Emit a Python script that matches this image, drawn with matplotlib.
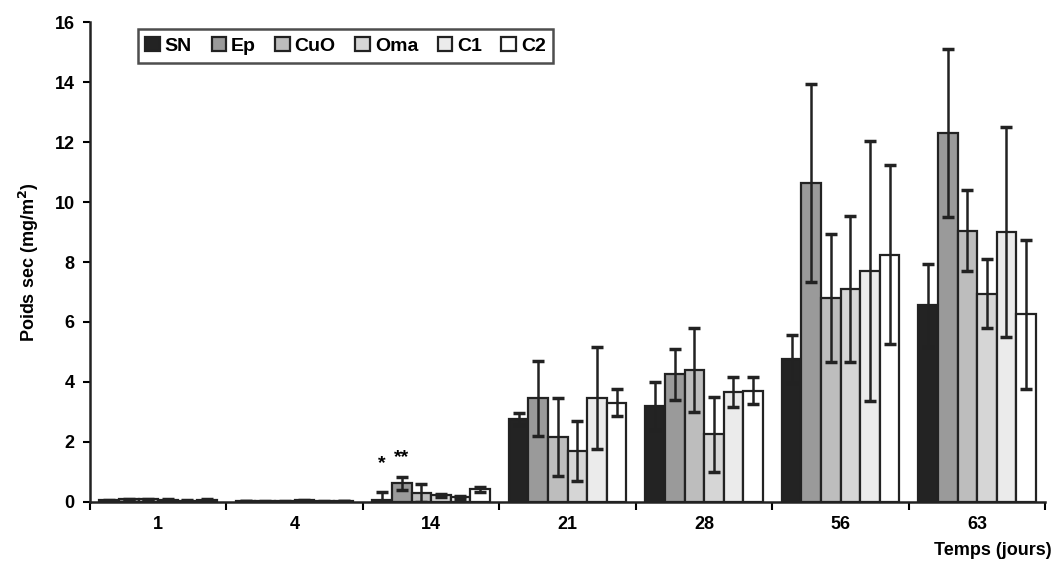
import numpy as np
import matplotlib.pyplot as plt

plt.rcParams['font.family'] = ['Liberation Sans', 'DejaVu Sans']
plt.rcParams['font.weight'] = 'bold'

jours = ['1', '4', '14', '21', '28', '56', '63']
series = ['SN', 'Ep', 'CuO', 'Oma', 'C1', 'C2']

SN = [0.05, 0.03, 0.05, 2.75, 3.2, 4.75, 6.55]
Ep = [0.08, 0.02, 0.62, 3.45, 4.25, 10.65, 12.3]
CuO = [0.08, 0.02, 0.3, 2.15, 4.4, 6.8, 9.05]
Oma = [0.06, 0.05, 0.22, 1.7, 2.25, 7.1, 6.95]
C1 = [0.04, 0.02, 0.15, 3.45, 3.65, 7.7, 9.0]
C2 = [0.06, 0.03, 0.42, 3.3, 3.7, 8.25, 6.25]

SN_err = [0.02, 0.01, 0.27, 0.2, 0.8, 0.8, 1.4]
Ep_err = [0.02, 0.01, 0.22, 1.25, 0.85, 3.3, 2.8]
CuO_err = [0.02, 0.01, 0.3, 1.3, 1.4, 2.15, 1.35]
Oma_err = [0.02, 0.01, 0.05, 1.0, 1.25, 2.45, 1.15]
C1_err = [0.02, 0.01, 0.05, 1.7, 0.5, 4.35, 3.5]
C2_err = [0.02, 0.01, 0.08, 0.45, 0.45, 3.0, 2.5]

values = [SN, Ep, CuO, Oma, C1, C2]
errors = [SN_err, Ep_err, CuO_err, Oma_err, C1_err, C2_err]
colors = ['#232323', '#9a9a9a', '#bdbdbd', '#d6d6d6', '#ebebeb', '#ffffff']

fig = plt.figure(figsize=(10.57, 5.69), dpi=100)
ax = fig.add_axes([0.085, 0.118, 0.904, 0.843])

x = np.arange(len(jours))
w = 0.86 / 6
for i, (name, v, e, c) in enumerate(zip(series, values, errors, colors)):
    pos = x - 0.43 + w * (i + 0.5)
    ax.bar(pos, v, width=w, color=c, edgecolor='#222222', linewidth=1.6,
           label=name, zorder=2)
    ax.errorbar(pos, v, yerr=e, fmt='none', ecolor='#222222', elinewidth=1.8,
                capsize=4, capthick=2.5, zorder=3)

# significance stars at day 14
ax.text(x[2] - 0.43 + w * 0.5, 1.0, '*', ha='center', va='bottom', fontsize=14)
ax.text(x[2] - 0.43 + w * 1.5, 1.2, '**', ha='center', va='bottom', fontsize=14)

ax.set_xlim(-0.5, len(jours) - 0.5)
ax.set_ylim(0, 16)
ax.set_yticks(np.arange(0, 17, 2))
ax.set_xticks(x)
ax.set_xticklabels(jours, fontsize=13, fontweight='bold')
ax.set_xticks(np.arange(-0.5, len(jours)), minor=True)
ax.tick_params(axis='x', which='major', length=0, pad=10)
ax.tick_params(axis='x', which='minor', length=6, width=1.5, direction='out')
ax.tick_params(axis='y', labelsize=13, length=5, width=1.5, direction='out', pad=6)
for lab in ax.get_yticklabels():
    lab.set_fontweight('bold')

for s in ['top', 'right']:
    ax.spines[s].set_visible(False)
for s in ['left', 'bottom']:
    ax.spines[s].set_linewidth(1.8)
    ax.spines[s].set_color('#222222')

ax.set_ylabel('Poids sec (mg/m$\\mathbf{^2}$)', fontsize=13, fontweight='bold', labelpad=10)
fig.text(0.995, 0.018, 'Temps (jours)', ha='right', va='bottom', fontsize=13, fontweight='bold')

leg = ax.legend(loc='upper left', bbox_to_anchor=(0.05, 0.985), ncol=6, fontsize=14,
                frameon=True, fancybox=False, edgecolor='#222222', handlelength=0.75,
                handleheight=0.75, handletextpad=0.25, columnspacing=1.0,
                borderpad=0.4, borderaxespad=0)
leg.get_frame().set_linewidth(1.8)
for t in leg.get_texts():
    t.set_fontweight('bold')

fig.savefig('out.png', dpi=100)
